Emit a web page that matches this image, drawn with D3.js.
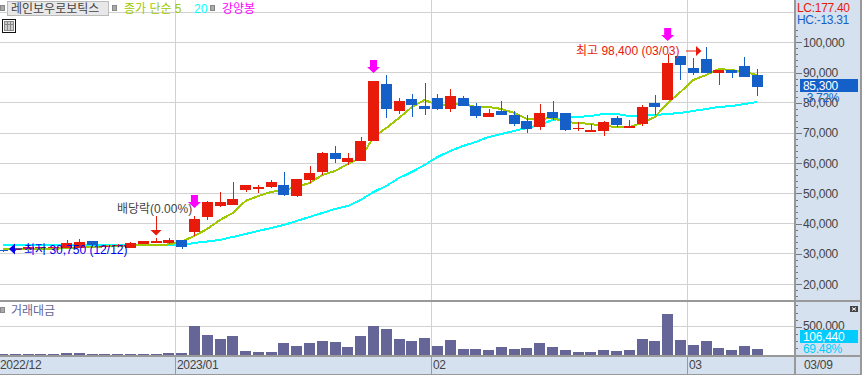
<!DOCTYPE html>
<html>
<head>
<meta charset="utf-8">
<script src="https://cdn.jsdelivr.net/npm/d3@7"></script>
<style>
    body { margin: 0; background: #fff; overflow: hidden; }
    text { font-family: "Liberation Sans", "Noto Sans CJK KR", sans-serif; font-size: 12px; }
    .tight text, text.tight { letter-spacing: -0.3px; }
</style>
</head>
<body>
<div id="wrapper"></div>
<script>
const dates = ["12/12","12/13","12/14","12/15","12/16","12/19","12/20","12/21","12/22","12/23","12/26","12/27","12/28","12/29",
    "01/02","01/03","01/04","01/05","01/06","01/09","01/10","01/11","01/12","01/13","01/16","01/17","01/18","01/19","01/20","01/25","01/26","01/27","01/30","01/31",
    "02/01","02/02","02/03","02/06","02/07","02/08","02/09","02/10","02/13","02/14","02/15","02/16","02/17","02/20","02/21","02/22","02/23","02/24","02/27","02/28",
    "03/02","03/03","03/06","03/07","03/08","03/09"];

const opens = [31200,31300,31700,31900,32100,32000,32000,34310,32300,32600,32000,33300,33650,33650,
    34740,37290,42240,45880,46210,51170,51500,52160,52820,49190,54480,57120,63400,60430,60760,67370,86210,77290,81250,78940,
    81590,77950,81590,78940,75300,77290,75970,73980,72000,76960,76630,71500,70350,70680,74970,71670,72990,79930,80930,95470,
    91500,94480,89850,90840,92160,89190];
const highs = [31400,31700,32500,32400,32500,34640,34970,34310,33000,33300,33800,34400,35300,35300,
    34740,42580,47530,50510,53820,52820,52820,54480,57120,54800,59100,63730,65720,63400,68690,87210,89190,81590,82910,86550,
    82910,84560,82250,79930,77950,80600,77290,75970,79600,80600,76630,73650,73000,73980,75640,74310,79270,82580,96130,95470,
    94810,98400,90840,90840,95140,91170];
const lows = [30750,30900,31500,31700,31900,31900,31900,32700,32000,32300,32000,33300,33600,33300,
    31770,36060,41250,45550,46210,50610,50180,51830,49190,48860,53490,56130,60100,59440,60760,67370,74970,76300,75300,75970,
    77620,76960,78940,74970,75300,75970,72330,70020,71010,74310,70680,70680,70350,69020,72000,71670,72330,75970,80930,87540,
    89190,89850,85880,88200,88530,82250];
const closes = [31000,31650,32300,32300,32330,33650,33980,32990,32660,32990,33650,34310,34310,34640,
    32430,41580,47200,47200,48200,52820,52160,53820,49520,54800,56790,63400,61420,61750,67370,87210,77950,80600,79270,77950,
    77950,82250,78940,75640,76630,75970,72990,71340,76630,74970,71010,71670,71010,73650,72660,72330,78610,78610,93160,92500,
    89850,89850,90840,89850,88530,85300];

// 5 day line
const ma5 = [31670,31670,31670,31670,31670,32000,32160,32330,32500,32660,32830,32990,32990,33150,
    34080,35960,38280,41250,43570,47540,49190,50510,51170,52160,53480,56130,57450,59770,61750,68690,71670,74970,78610,80920,
    79270,79270,79600,78610,78610,77950,76630,74640,74640,74970,73650,73320,72990,72330,72000,72000,73320,75300,79930,83570,
    87540,89190,91170,90840,90180,89190];
// 20 day line
const ma20 = [33050,33050,33030,33030,33000,33000,33000,32990,32990,32990,32970,32970,32950,32950,
    32990,33650,34140,34640,35630,36620,37620,38610,39600,40920,42240,43570,44890,45880,47860,50510,52490,55140,57120,59430,
    62080,64060,65720,67040,68690,69680,70680,71670,72660,74310,74970,75300,75640,76300,76300,75640,75640,75970,76300,76630,
    77290,77950,78610,78940,79600,80260];

const volumes = [18000,18000,18000,18000,18000,35000,35000,18000,18000,18000,18000,18000,18000,35000,
    35000,512000,353000,283000,336000,71000,53000,53000,212000,159000,212000,247000,230000,141000,336000,512000,459000,283000,247000,300000,
    159000,265000,106000,106000,88000,141000,106000,124000,212000,141000,88000,53000,53000,88000,71000,88000,283000,247000,724000,265000,
    177000,247000,124000,88000,159000,106440];

const gridPrices = [110000,100000,90000,80000,70000,60000,50000,40000,30000,20000];
const priceTicks = [100000,90000,80000,70000,60000,50000,40000,30000,20000];
const minorPriceTicks = d3.range(16000,106000,2000);
const volumeTicks = [500000];
const minorVolumeTicks = d3.range(0,1000000,125000);
const monthStarts = ["01/02","02/01","03/02"];
const monthLabels = ["2023/01","02","03"];
const signalDates = ["01/03","01/25","02/27"];
const signalTips = [45220,89850,100430];

const colors = {red: "#e81a0a", blue: "#1560c8", ma5: "#a0c800", ma20: "#00ffff", signal: "#ff00ff",
    grid: "#d2d2d2", frame: "#999999", panel: "#d6e1ef", text: "#444444", volume: "#656598", cyanBox: "#00ccff"};

const width = 862;
const height = 377;
const plotRight = 795;

const wrapper = d3.select("#wrapper")
    .append("svg")
    .attr("width", width)
    .attr("height", height)
    .style("display", "block");

const x = d3.scaleBand()
    .domain(dates)
    .range([-3.8, 763.6])
    .paddingInner(0.14)
    .paddingOuter(0.07);
const xMid = d => x(d) + x.bandwidth() / 2;
const xStart = d => Math.round(x(d) - x.step() * 0.07) + 0.5;

const y = d3.scaleLinear().domain([20000, 100000]).range([284.2, 42.3]);
const yVol = d3.scaleLinear().domain([0, 500000]).range([355, 326.7]);

// right side and date panels
wrapper.append("rect").attr("x", plotRight).attr("y", 0).attr("width", width - plotRight).attr("height", 375).attr("fill", colors.panel);
wrapper.append("rect").attr("x", 0).attr("y", 356).attr("width", width).attr("height", 19).attr("fill", colors.panel);

// grid
const grid = wrapper.append("g").attr("stroke", colors.grid).attr("shape-rendering", "crispEdges");
grid.selectAll(".h").data(gridPrices).enter().append("line")
    .attr("x1", 0).attr("x2", plotRight)
    .attr("y1", d => y(d)).attr("y2", d => y(d));
[0, 500000].forEach(v => {
    grid.append("line").attr("x1", 0).attr("x2", plotRight).attr("y1", yVol(v)).attr("y2", yVol(v));
});
grid.selectAll(".v").data(monthStarts).enter().append("line")
    .attr("x1", xStart).attr("x2", xStart)
    .attr("y1", 0).attr("y2", 356);

// moving averages go under the candles
const line = d3.line()
    .x((d, i) => xMid(dates[i]))
    .y(d => y(d));
wrapper.append("path").datum(ma20).attr("d", line).attr("fill", "none").attr("stroke", colors.ma20).attr("stroke-width", 2).attr("shape-rendering", "crispEdges");
wrapper.append("path").datum(ma5).attr("d", line).attr("fill", "none").attr("stroke", colors.ma5).attr("stroke-width", 2).attr("shape-rendering", "crispEdges");

// candles
const candleColor = i => closes[i] >= opens[i] ? colors.red : colors.blue;
const candles = wrapper.append("g").attr("shape-rendering", "crispEdges");
candles.selectAll(".wick").data(dates).enter().append("line")
    .attr("x1", d => Math.round(xMid(d)) + 0.5)
    .attr("x2", d => Math.round(xMid(d)) + 0.5)
    .attr("y1", (d, i) => y(highs[i]))
    .attr("y2", (d, i) => y(lows[i]))
    .attr("stroke", (d, i) => candleColor(i));
candles.selectAll(".body").data(dates).enter().append("rect")
    .attr("x", d => Math.round(x(d)))
    .attr("width", x.bandwidth())
    .attr("y", (d, i) => y(Math.max(opens[i], closes[i])))
    .attr("height", (d, i) => Math.max(1, Math.abs(y(opens[i]) - y(closes[i]))))
    .attr("fill", (d, i) => candleColor(i));

// volume bars
wrapper.append("g").attr("shape-rendering", "crispEdges")
    .selectAll("rect").data(volumes).enter().append("rect")
    .attr("x", (d, i) => Math.round(x(dates[i])))
    .attr("width", x.bandwidth())
    .attr("y", d => yVol(d))
    .attr("height", d => yVol(0) - yVol(d))
    .attr("fill", colors.volume);

// signal arrows
const signals = wrapper.append("g").attr("fill", colors.signal);
signalDates.forEach((d, i) => {
    const cx = xMid(d);
    const tip = y(signalTips[i]);
    signals.append("path")
        .attr("d", `M${cx - 3.5},${tip - 13}H${cx + 3.5}V${tip - 6}H${cx + 6.5}L${cx},${tip}L${cx - 6.5},${tip - 6}H${cx - 3.5}Z`);
});

// 배당락 marker
const divX = xMid("12/28");
wrapper.append("line").attr("x1", divX).attr("x2", divX).attr("y1", 216).attr("y2", 231)
    .attr("stroke", colors.red).attr("shape-rendering", "crispEdges");
wrapper.append("path").attr("d", `M${divX - 5.5},230H${divX + 5.5}L${divX},235.5Z`).attr("fill", colors.red);
wrapper.append("text").attr("x", 117).attr("y", 212.5).attr("fill", colors.text).text("배당락(0.00%)");

// low / high labels
const lowY = y(31650);
wrapper.append("path").attr("d", `M9,${lowY}L15,${lowY - 5.5}V${lowY + 5.5}Z`).attr("fill", "#0000ee");
wrapper.append("line").attr("x1", 14).attr("x2", 22).attr("y1", lowY).attr("y2", lowY).attr("stroke", "#0000ee");
wrapper.append("text").attr("x", 24).attr("y", 253.5).attr("fill", "#0000ee").text("최저 30,750 (12/12)");

const highY = 51;
wrapper.append("text").attr("x", 576).attr("y", 55).attr("fill", colors.red).text("최고 98,400 (03/03)");
wrapper.append("line").attr("x1", 686).attr("x2", 696).attr("y1", highY).attr("y2", highY).attr("stroke", colors.red);
wrapper.append("path").attr("d", `M696,${highY - 5}L701.5,${highY}L696,${highY + 5}Z`).attr("fill", colors.red);

// price axis
const axisStyle = g => {
    g.select(".domain").remove();
    g.selectAll("line").attr("stroke", "#777777").attr("shape-rendering", "crispEdges");
};
wrapper.append("g").attr("transform", `translate(${plotRight},0)`)
    .call(d3.axisRight(y).tickValues(minorPriceTicks).tickSize(3).tickFormat(""))
    .call(axisStyle);
wrapper.append("g").attr("class", "tight").attr("transform", `translate(${plotRight},0)`)
    .call(d3.axisRight(y).tickValues(priceTicks).tickSize(7).tickPadding(1).tickFormat(d3.format(",")))
    .call(axisStyle)
    .call(g => g.selectAll("text").attr("fill", colors.text).style("font-family", null).style("font-size", "12px"));

// volume axis
wrapper.append("g").attr("transform", `translate(${plotRight},0)`)
    .call(d3.axisRight(yVol).tickValues(minorVolumeTicks).tickSize(3).tickFormat(""))
    .call(axisStyle);
wrapper.append("g").attr("class", "tight").attr("transform", `translate(${plotRight},0)`)
    .call(d3.axisRight(yVol).tickValues(volumeTicks).tickSize(7).tickPadding(1).tickFormat(d3.format(",")))
    .call(axisStyle)
    .call(g => g.selectAll("text").attr("fill", colors.text).attr("dy", "0.2em"));

// frame lines
const frame = wrapper.append("g").attr("stroke", colors.frame).attr("stroke-width", 1.5).attr("shape-rendering", "crispEdges");
frame.append("line").attr("x1", 0).attr("x2", width).attr("y1", 301).attr("y2", 301);
frame.append("line").attr("x1", 0).attr("x2", width).attr("y1", 356).attr("y2", 356);
frame.append("line").attr("x1", 0).attr("x2", width).attr("y1", 374.5).attr("y2", 374.5);
frame.append("line").attr("x1", plotRight).attr("x2", plotRight).attr("y1", 0).attr("y2", 374.5);
frame.append("line").attr("x1", 861).attr("x2", 861).attr("y1", 0).attr("y2", 374.5);

// date strip
wrapper.selectAll(".monthTick").data(monthStarts).enter().append("line")
    .attr("x1", xStart).attr("x2", xStart).attr("y1", 356).attr("y2", 374)
    .attr("stroke", colors.frame).attr("shape-rendering", "crispEdges");
wrapper.append("text").attr("class", "tight").attr("x", 0).attr("y", 369).attr("fill", colors.text).text("2022/12");
wrapper.selectAll(".monthLabel").data(monthStarts).enter().append("text")
    .attr("class", "tight")
    .attr("x", d => xStart(d) + 1.5)
    .attr("y", 369)
    .attr("fill", colors.text)
    .text((d, i) => monthLabels[i]);
wrapper.append("text").attr("class", "tight").attr("x", 804).attr("y", 369).attr("fill", colors.text).text("03/09");

// current value boxes
wrapper.append("rect").attr("x", 800).attr("y", 79).attr("width", 58).attr("height", 13).attr("fill", colors.blue);
wrapper.append("text").attr("class", "tight").attr("x", 803).attr("y", 90).attr("fill", "#fff").text("85,300");
wrapper.append("text").attr("class", "tight").attr("x", 803).attr("y", 102).attr("fill", colors.blue).text("-3.72%");
wrapper.append("rect").attr("x", 800).attr("y", 330).attr("width", 58).attr("height", 13).attr("fill", colors.cyanBox);
wrapper.append("text").attr("class", "tight").attr("x", 803).attr("y", 341).attr("fill", "#fff").text("106,440");
wrapper.append("text").attr("class", "tight").attr("x", 803).attr("y", 353).attr("fill", colors.cyanBox).text("69.48%");
wrapper.append("text").attr("class", "tight").attr("x", 797).attr("y", 12).attr("fill", colors.red).text("LC:177.40");
wrapper.append("text").attr("class", "tight").attr("x", 797).attr("y", 24).attr("fill", colors.blue).text("HC:-13.31");

// close button of the volume panel
wrapper.append("rect").attr("x", 850).attr("y", 306).attr("width", 8).attr("height", 6).attr("fill", "#444");
wrapper.append("path").attr("d", "M852,307.5L856,310.5M856,307.5L852,310.5").attr("stroke", "#fff");

// header
const squareMark = (sx, sy) => wrapper.append("rect").attr("x", sx).attr("y", sy).attr("width", 4).attr("height", 5)
    .attr("fill", "#aaa").attr("stroke", "#888").attr("shape-rendering", "crispEdges");
squareMark(0.5, 5.5);
wrapper.append("rect").attr("x", 7.5).attr("y", 1.5).attr("width", 101).attr("height", 14)
    .attr("fill", "#e8e8e8").attr("stroke", "#bbb").attr("shape-rendering", "crispEdges");
wrapper.append("text").attr("x", 11).attr("y", 13).attr("fill", colors.text).text("레인보우로보틱스");
squareMark(112.5, 5.5);
wrapper.append("text").attr("x", 124).attr("y", 13).attr("fill", colors.ma5).text("종가 단순 5");
wrapper.append("text").attr("x", 194).attr("y", 13).attr("fill", colors.ma20).text("20");
squareMark(210.5, 5.5);
wrapper.append("text").attr("x", 222).attr("y", 13).attr("fill", colors.signal).text("강양봉");

// table icon
const icon = wrapper.append("g").attr("shape-rendering", "crispEdges");
icon.append("rect").attr("x", 2.5).attr("y", 19.5).attr("width", 13).attr("height", 13).attr("fill", "#fff").attr("stroke", "#111");
icon.append("rect").attr("x", 4.5).attr("y", 21.5).attr("width", 9).attr("height", 9).attr("fill", "#ccc").attr("stroke", "#888");
icon.append("path").attr("d", "M7.5,21.5V30.5M10.5,21.5V30.5M4.5,24.5H13.5").attr("stroke", "#888").attr("fill", "none");

// volume title
squareMark(0.5, 307.5);
wrapper.append("text").attr("x", 11).attr("y", 315).attr("fill", colors.volume).text("거래대금");
</script>
</body>
</html>
